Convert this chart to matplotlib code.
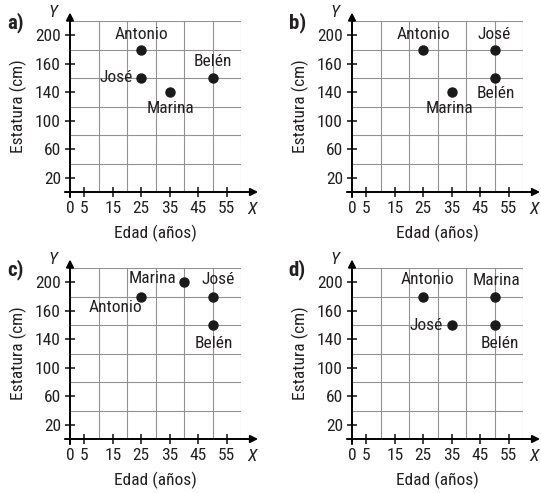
import numpy as np
import matplotlib
matplotlib.use("Agg")
from matplotlib import pyplot as plt
from matplotlib import font_manager

# narrow font like the book's one, if there is one installed
disponibles = {(f.name, f.stretch) for f in font_manager.fontManager.ttflist}
nombres_fuentes = {f.name for f in font_manager.fontManager.ttflist}
if 'Liberation Sans Narrow' in nombres_fuentes:
    plt.rcParams['font.family'] = ['Liberation Sans Narrow', 'DejaVu Sans']
elif 'Roboto Condensed' in nombres_fuentes:
    plt.rcParams['font.family'] = ['Roboto Condensed', 'DejaVu Sans']
else:
    plt.rcParams['font.family'] = ['DejaVu Sans']
    if ('DejaVu Sans', 'condensed') in disponibles or ('DejaVu Sans', 'semi-condensed') in disponibles:
        plt.rcParams['font.stretch'] = 'condensed'

# datos de cada apartado (mismo orden de nombres)
nombres = ['Antonio', 'José', 'Marina', 'Belén']
edad_a = [25, 25, 35, 50]
estatura_a = [180, 150, 140, 150]
edad_b = [25, 50, 35, 50]
estatura_b = [180, 180, 140, 150]
edad_c = [25, 50, 40, 50]
estatura_c = [180, 180, 200, 150]
edad_d = [25, 35, 50, 50]
estatura_d = [180, 150, 180, 150]

x_ticks = [0, 5, 15, 25, 35, 45, 55]
y_ticks = [20, 60, 100, 140, 160, 200]
# the y axis is not linear: every labelled step uses two grid rows
y_marcas = [0, 20, 40, 60, 80, 100, 120, 140, 150, 160, 180, 200, 220]
y_filas = np.arange(len(y_marcas))

def fwd(y):
    return np.interp(y, y_marcas, y_filas)

def inv(p):
    return np.interp(p, y_filas, y_marcas)

# where each name sits next to its point (pixels): dx, dy, ha
etiquetas = {
    'a': [(0, 15, 'center'), (-8, 0, 'right'), (1, -16, 'center'), (0, 16, 'center')],
    'b': [(0, 15, 'center'), (0, 15, 'center'), (-2, -16, 'center'), (1, -16, 'center')],
    'c': [(1, -11, 'right'), (6, 17, 'center'), (-8, 4, 'right'), (1, -18, 'center')],
    'd': [(4, 17, 'center'), (-9, 0, 'right'), (2, 16, 'center'), (5, -19, 'center')],
}

W, H = 541, 493
fig = plt.figure(figsize=(W / 100, H / 100), dpi=100)

paneles = [('a', edad_a, estatura_a, 70, 21),
           ('b', edad_b, estatura_b, 352, 21),
           ('c', edad_c, estatura_c, 70, 268),
           ('d', edad_d, estatura_d, 352, 268)]

txt = '#231f20'
fs = 12.5
for letra, xs, ys, left, top in paneles:
    size = 171
    ax = fig.add_axes([left / W, 1 - (top + size) / H, size / W, size / H])
    ax.set_yscale('function', functions=(fwd, inv))
    ax.set_xlim(0, 60)
    ax.set_ylim(0, 220)
    for s in ax.spines.values():
        s.set_visible(False)

    ax.set_xticks(x_ticks)
    ax.set_xticks(np.arange(0, 61, 5), minor=True)
    ax.set_yticks(y_ticks)
    ax.set_yticks(y_marcas, minor=True)
    ax.set_yticklabels([str(v) for v in y_ticks])
    ax.tick_params(which='major', direction='inout', length=7, width=1.2,
                   labelsize=fs, colors=txt, pad=3)
    ax.tick_params(which='minor', length=0)
    ax.grid(which='minor', color='#929292', lw=0.8)
    ax.set_axisbelow(True)

    # ejes con flecha
    ax.annotate('', xy=(1.1, 0), xytext=(-0.03, 0), xycoords='axes fraction',
                arrowprops=dict(arrowstyle='-|>', color='k', lw=1.4,
                                mutation_scale=11, shrinkA=0, shrinkB=0),
                annotation_clip=False)
    ax.annotate('', xy=(0, 1.05), xytext=(0, -0.03), xycoords='axes fraction',
                arrowprops=dict(arrowstyle='-|>', color='k', lw=1.4,
                                mutation_scale=11, shrinkA=0, shrinkB=0),
                annotation_clip=False)
    ax.text(1.065, -0.105, 'X', transform=ax.transAxes, fontsize=fs,
            style='italic', color=txt, ha='center', va='center')
    ax.text(-0.1, 1.05, 'Y', transform=ax.transAxes, fontsize=fs,
            style='italic', color=txt, ha='center', va='center')
    ax.text(-0.32, 0.99, letra + ')', transform=ax.transAxes, fontsize=15,
            fontweight='bold', color=txt, ha='center', va='center')

    ax.set_xlabel('Edad (años)', fontsize=fs, color=txt, labelpad=6)
    ax.set_ylabel('Estatura (cm)', fontsize=fs, color=txt, labelpad=6)

    ax.plot(xs, ys, 'o', color='#1a1a1a', ms=6.5, clip_on=False, zorder=5)
    for n, x, y, (dx, dy, ha) in zip(nombres, xs, ys, etiquetas[letra]):
        ax.annotate(n, (x, y), xytext=(dx, dy), textcoords='offset pixels',
                    ha=ha, va='center', fontsize=fs, color=txt,
                    annotation_clip=False, zorder=6)

fig.savefig('out.png', dpi=100, facecolor='white')
